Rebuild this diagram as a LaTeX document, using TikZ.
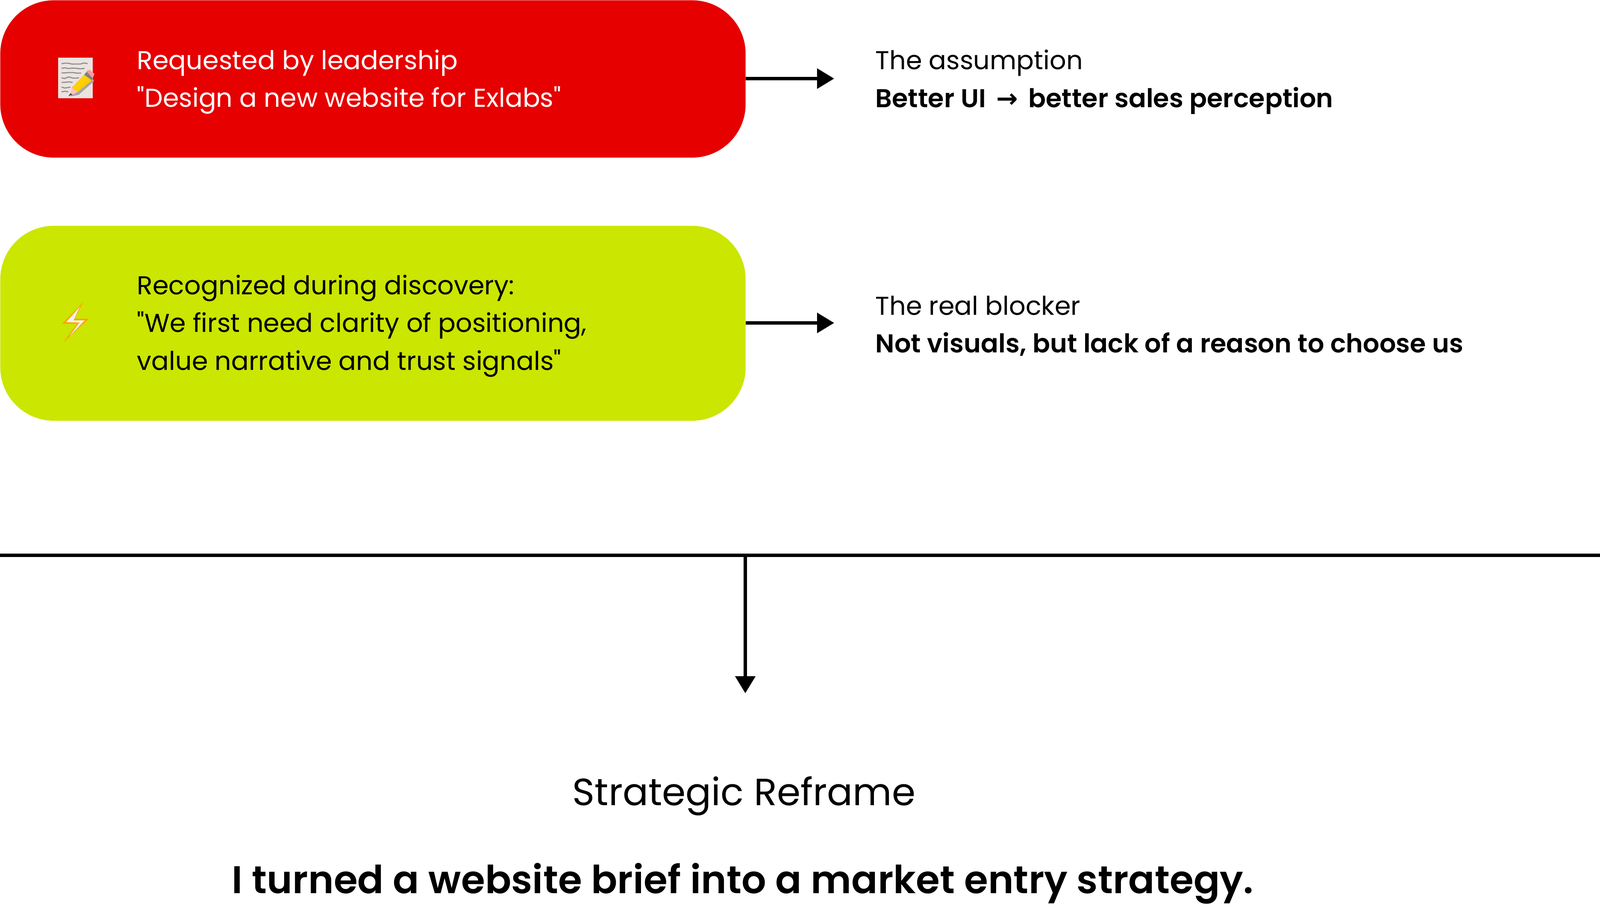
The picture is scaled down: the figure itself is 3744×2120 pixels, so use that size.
\documentclass[tikz,border=0pt]{standalone}
\usepackage{fontspec}
\setmainfont[Ligatures=TeXOff,BoldFont={Poppins SemiBold}]{Poppins}
\newfontfamily\arrowfont{DejaVu Sans}
\usetikzlibrary{arrows.meta,decorations.pathmorphing}
\definecolor{reqred}{HTML}{E60000}
\definecolor{disgreen}{HTML}{CBE600}
\definecolor{notepage}{HTML}{EAE3E0}
\tikzset{
  panel/.style={rounded corners=1.25cm,minimum width=17.43cm,inner sep=0pt,anchor=north west},
  bodytext/.style={anchor=west,align=left,inner sep=0pt,font=\fontsize{17.2}{25.1}\selectfont},
  link/.style={line width=.08cm,-{Triangle[length=.4cm,width=.46cm]}},
  scribble/.style={black!45,line width=.025cm,decorate,decoration={random steps,segment length=2.5pt,amplitude=.7pt}},
}
\begin{document}
\begin{tikzpicture}[x=.01cm,y=-.01cm]
  \useasboundingbox (0,0) rectangle (3744,2120);
  \node[panel,fill=reqred,minimum height=3.68cm] (request) at (0,0) {};
  \node[panel,fill=disgreen,minimum height=4.56cm] (discovery) at (0,528) {};
  % note icon
  \fill[notepage] (136,135) rectangle (217,230);
  \draw[scribble] (144,149) -- (205,149) (144,160) -- (198,160) (144,171) -- (190,171)
    (144,182) -- (185,182) (144,193) -- (170,193) (144,204) -- (165,204) (144,215) -- (160,215);
  \fill[black!35] (164,226) -- (184,222) -- (220,190) -- (217,183) -- cycle;
  \fill[orange!40!yellow] (168,205) -- (197,175) -- (215,188) -- (182,215) -- cycle;
  \fill[yellow!70!orange] (172,203) -- (197,178) -- (206,184) -- (180,209) -- cycle;
  \fill[red!25!white] (165,218) -- (168,205) -- (182,215) -- (170,222) -- cycle;
  \fill[black!70] (160,225) -- (165,218) -- (170,222) -- cycle;
  \fill[gray] (197,175) -- (205,165) -- (217,183) -- (215,188) -- cycle;
  \fill[red!40!white] (202,167) -- (210,163) -- (221,173) -- (217,183) -- cycle;
  % bolt icon
  \fill[orange!70!yellow] (195,707) -- (145,758) -- (180,758) -- (148,802) -- (208,746) -- (175,746) -- cycle;
  \fill[black!5] (187,718) -- (155,754) -- (186,755) -- (162,788) -- (198,750) -- (172,750) -- cycle;
  % box texts
  \node[bodytext,text=white] (requestText) at (320,192) {Requested by leadership\\"Design a new website for Exlabs"};
  \node[bodytext] (discoveryText) at (320,763) {Recognized during discovery:\\"We first need clarity of positioning,\\value narrative and trust signals"};
  \node[bodytext] (assumption) at (2048,192) {The assumption\\\textbf{Better UI {\arrowfont\,→\,} better sales perception}};
  \node[bodytext] (blocker) at (2048,763) {The real blocker\\\textbf{Not visuals, but lack of a reason to choose us}};
  % connectors
  \coordinate (assumptionEnd) at (1952,184);
  \coordinate (blockerEnd) at (1952,756);
  \coordinate (ruleLeft) at (0,1300);
  \coordinate (ruleMid) at (1744,1300);
  \coordinate (ruleRight) at (3744,1300);
  \coordinate (reframeEnd) at (1744,1623);
  \draw[link] (request.east |- assumptionEnd) -- (assumptionEnd);
  \draw[link] (discovery.east |- blockerEnd) -- (blockerEnd);
  \draw[line width=.08cm] (ruleLeft) -- (ruleRight);
  \draw[link] (ruleMid) -- (reframeEnd);
  % bottom
  \node[font=\fontsize{25.25}{30}\selectfont,inner sep=0pt] (reframe) at (1741,1864) {Strategic Reframe};
  \node[font=\fontsize{25.75}{30}\selectfont\bfseries,inner sep=0pt] (result) at (1738,2068) {I turned a website brief into a market entry strategy.};
\end{tikzpicture}
\end{document}
